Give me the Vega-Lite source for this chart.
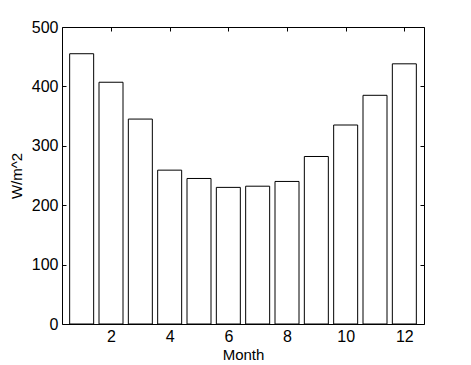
{
  "$schema": "https://vega.github.io/schema/vega-lite/v6.json",
  "autosize": "none",
  "width": 362,
  "height": 297,
  "padding": {"left": 62, "top": 27, "right": 47, "bottom": 41},
  "background": "white",
  "config": {
    "font": "Liberation Sans",
    "view": {"stroke": "black", "strokeWidth": 1},
    "axis": {
      "domain": false,
      "grid": false,
      "tickColor": "black",
      "tickSize": -4,
      "tickWidth": 1,
      "labelColor": "black",
      "labelFont": "Liberation Sans",
      "labelFontSize": 16,
      "titleColor": "black",
      "titleFont": "Liberation Sans",
      "titleFontSize": 15,
      "titleFontWeight": "normal"
    }
  },
  "data": {
    "values": [
      {"Month": 1, "W": 455},
      {"Month": 2, "W": 407},
      {"Month": 3, "W": 345},
      {"Month": 4, "W": 259},
      {"Month": 5, "W": 245},
      {"Month": 6, "W": 230},
      {"Month": 7, "W": 232},
      {"Month": 8, "W": 240},
      {"Month": 9, "W": 282},
      {"Month": 10, "W": 335},
      {"Month": 11, "W": 385},
      {"Month": 12, "W": 438}
    ]
  },
  "layer": [
    {
      "mark": {"type": "bar", "fill": "white", "stroke": "black", "strokeWidth": 1, "size": 24, "cornerRadius": 0},
      "encoding": {
        "x": {
          "field": "Month",
          "type": "quantitative",
          "scale": {"domain": [0.5, 12.5], "nice": false, "zero": false},
          "axis": {"values": [2, 4, 6, 8, 10, 12], "labelPadding": 8, "title": "Month", "titlePadding": 3, "labelFlush": false}
        },
        "y": {
          "field": "W",
          "type": "quantitative",
          "scale": {"domain": [0, 500], "nice": false},
          "axis": {"values": [0, 100, 200, 300, 400, 500], "labelPadding": 8, "title": "W/m^2", "titlePadding": 7, "labelFlush": false}
        }
      }
    },
    {
      "mark": {"type": "point", "opacity": 0},
      "encoding": {
        "x": {
          "field": "Month",
          "type": "quantitative",
          "scale": {"domain": [0.5, 12.5], "nice": false, "zero": false},
          "axis": {"orient": "top", "values": [2, 4, 6, 8, 10, 12], "labels": false, "title": null}
        },
        "y": {
          "field": "W",
          "type": "quantitative",
          "scale": {"domain": [0, 500], "nice": false},
          "axis": {"orient": "right", "values": [0, 100, 200, 300, 400, 500], "labels": false, "title": null}
        }
      }
    }
  ],
  "resolve": {"axis": {"x": "independent", "y": "independent"}}
}
